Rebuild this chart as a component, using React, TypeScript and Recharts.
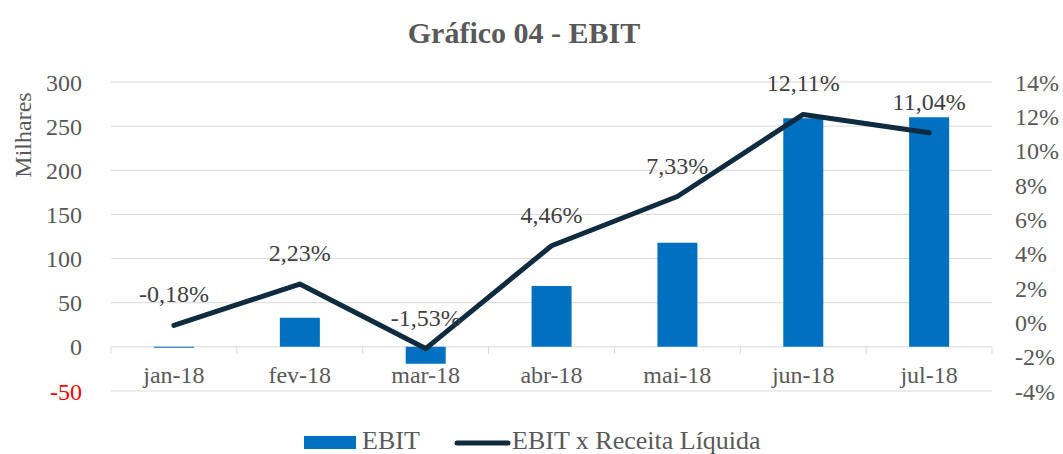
import React from 'react';
import { ComposedChart, Bar, Line, XAxis, YAxis, CartesianGrid, LabelList } from 'recharts';

// ---- data ----
const months = ['jan-18', 'fev-18', 'mar-18', 'abr-18', 'mai-18', 'jun-18', 'jul-18'];
const ebit = [-1, 33, -19, 69, 118, 259, 260];
const margemEbit = [-0.18, 2.23, -1.53, 4.46, 7.33, 12.11, 11.04];
const leftTicks = [-50, 0, 50, 100, 150, 200, 250, 300];
const rightTicks = [-4, -2, 0, 2, 4, 6, 8, 10, 12, 14];
const chartTitle = 'Gráfico 04 - EBIT';
const leftAxisLabel = 'Milhares';
const barName = 'EBIT';
const lineName = 'EBIT x Receita Líquida';

const data = months.map((m, i) => ({ month: m, ebit: ebit[i], margem: margemEbit[i] }));

// ---- layout / style ----
const W = 1063;
const H = 454;
const PLOT_LEFT = 111;
const PLOT_RIGHT = 992;
const PLOT_TOP = 82;
const PLOT_BOTTOM = 391;
const PLOT_W = PLOT_RIGHT - PLOT_LEFT;
const PLOT_H = PLOT_BOTTOM - PLOT_TOP;
const LEFT_MIN = -50;
const LEFT_MAX = 300;
const ZERO_FROM_BOTTOM = (PLOT_H * (0 - LEFT_MIN)) / (LEFT_MAX - LEFT_MIN);

const FONT = "'Liberation Serif', 'Times New Roman', serif";
const TEXT = '#595959';
const LABEL = '#404040';
const GRID = '#d9d9d9';
const BAR = '#0070C0';
const LINE = '#0E2B3F';

const fmtPct = (v: number) => v.toFixed(2).replace('.', ',') + '%';

const XTick = (props: any) => {
  const { x, y, payload, index } = props;
  const zeroY = y - ZERO_FROM_BOTTOM;
  const bw = PLOT_W / months.length;
  return (
    <g>
      <line x1={x - bw / 2} x2={x - bw / 2} y1={zeroY} y2={zeroY + 7} stroke={GRID} strokeWidth={1} />
      {index === months.length - 1 && (
        <line x1={x + bw / 2} x2={x + bw / 2} y1={zeroY} y2={zeroY + 7} stroke={GRID} strokeWidth={1} />
      )}
      <text x={x} y={zeroY + 36} textAnchor="middle" fill={TEXT} fontSize={24} fontFamily={FONT}>
        {payload.value}
      </text>
    </g>
  );
};

const LeftTick = (props: any) => {
  const { x, y, payload } = props;
  return (
    <text
      x={x}
      y={y}
      dy="0.355em"
      textAnchor="end"
      fill={payload.value < 0 ? '#FF0000' : TEXT}
      fontSize={24}
      fontFamily={FONT}
    >
      {payload.value}
    </text>
  );
};

const MilharesLabel = (props: any) => {
  const vb = props.viewBox || { x: 0, y: PLOT_TOP };
  const x = vb.x + 31;
  const y = vb.y + 53;
  return (
    <text
      x={x}
      y={y}
      textAnchor="middle"
      transform={`rotate(-90, ${x}, ${y})`}
      fill={TEXT}
      fontSize={24}
      fontFamily={FONT}
    >
      {leftAxisLabel}
    </text>
  );
};

export default function App() {
  return (
    <div style={{ position: 'absolute', left: 0, top: 0, width: W, height: H, background: '#fff' }}>
      <div style={{ position: 'absolute', left: 0, top: 0 }}>
        <ComposedChart width={W} height={H} data={data} margin={{ top: PLOT_TOP, right: 0, bottom: 0, left: 0 }}>
          <CartesianGrid yAxisId="left" vertical={false} stroke={GRID} />
          <XAxis
            dataKey="month"
            axisLine={false}
            tickLine={false}
            tickSize={0}
            tickMargin={0}
            interval={0}
            height={H - PLOT_BOTTOM}
            tick={<XTick />}
          />
          <YAxis
            yAxisId="left"
            domain={[LEFT_MIN, LEFT_MAX]}
            ticks={leftTicks}
            interval={0}
            axisLine={false}
            tickLine={false}
            tickSize={0}
            tickMargin={29}
            width={PLOT_LEFT}
            tick={<LeftTick />}
            label={<MilharesLabel />}
          />
          <YAxis
            yAxisId="right"
            orientation="right"
            domain={[-4, 14]}
            ticks={rightTicks}
            interval={0}
            axisLine={false}
            tickLine={false}
            tickSize={0}
            tickMargin={23}
            width={W - PLOT_RIGHT}
            tickFormatter={(v: number) => `${v}%`}
            tick={{ fill: TEXT, fontSize: 24, fontFamily: FONT }}
          />
          <Bar yAxisId="left" dataKey="ebit" name={barName} fill={BAR} barSize={40} isAnimationActive={false} />
          <Line
            yAxisId="right"
            dataKey="margem"
            name={lineName}
            type="linear"
            stroke={LINE}
            strokeWidth={5}
            strokeLinecap="round"
            strokeLinejoin="round"
            dot={false}
            activeDot={false}
            isAnimationActive={false}
          >
            <LabelList
              dataKey="margem"
              position="top"
              offset={23}
              formatter={(v: any) => fmtPct(Number(v))}
              fill={LABEL}
              fontSize={24}
              fontFamily={FONT}
            />
          </Line>
        </ComposedChart>
      </div>
      <svg width={W} height={H} style={{ position: 'absolute', left: 0, top: 0, pointerEvents: 'none' }}>
        <text x={524} y={43} textAnchor="middle" fill={TEXT} fontSize={30} fontWeight="bold" fontFamily={FONT}>
          {chartTitle}
        </text>
        <rect x={304} y={436} width={52} height={13} fill={BAR} />
        <text x={362} y={449} fill={TEXT} fontSize={26} fontFamily={FONT}>
          {barName}
        </text>
        <line x1={457} x2={508} y1={443} y2={443} stroke={LINE} strokeWidth={5} strokeLinecap="round" />
        <text x={512} y={449} fill={TEXT} fontSize={26} fontFamily={FONT}>
          {lineName}
        </text>
      </svg>
    </div>
  );
}
